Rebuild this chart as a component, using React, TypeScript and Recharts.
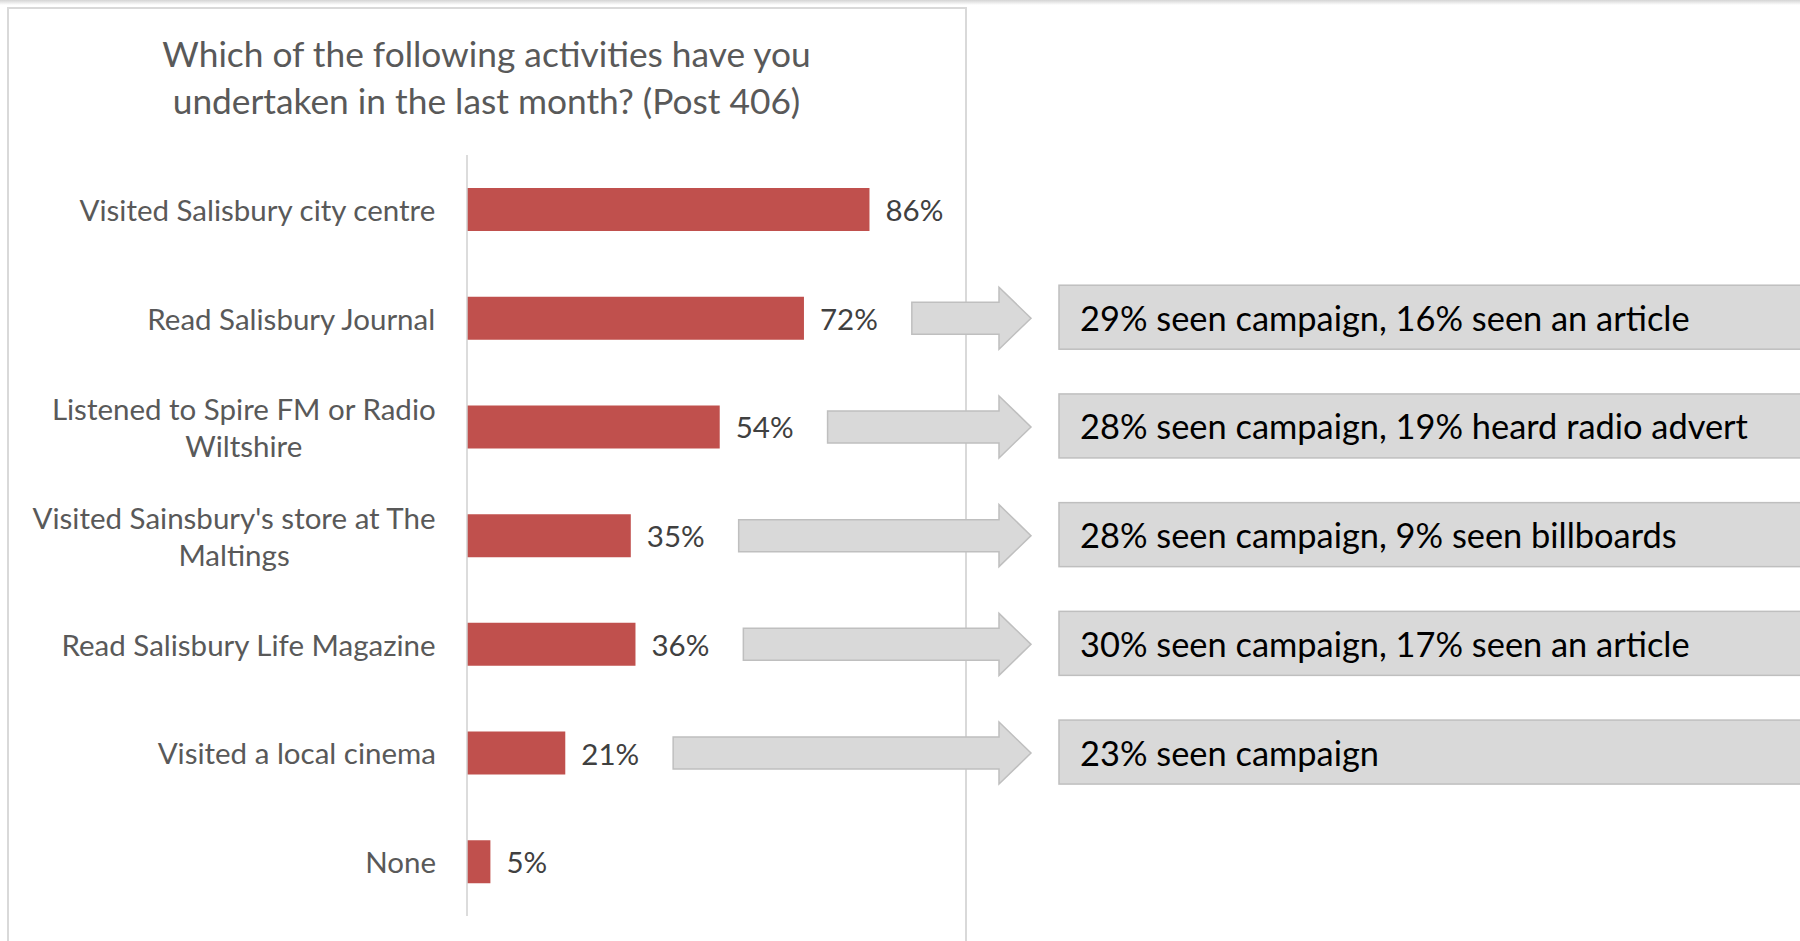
import React from 'react';
import { BarChart, Bar, XAxis, YAxis, LabelList } from 'recharts';

const CATEGORIES = [
  'Visited Salisbury city centre',
  'Read Salisbury Journal',
  'Listened to Spire FM or Radio Wiltshire',
  "Visited Sainsbury's store at The Maltings",
  'Read Salisbury Life Magazine',
  'Visited a local cinema',
  'None',
];
const VALUES = [86, 72, 54, 35, 36, 21, 5];
const CALLOUTS = [
  '',
  '29% seen campaign, 16% seen an article',
  '28% seen campaign, 19% heard radio advert',
  '28% seen campaign, 9% seen billboards',
  '30% seen campaign, 17% seen an article',
  '23% seen campaign',
  '',
];
const TITLE_LINES = ['Which of the following activities have you', 'undertaken in the last month? (Post 406)'];

const data = CATEGORIES.map((name, i) => ({ name, value: VALUES[i], callout: CALLOUTS[i] }));

const FONT = 'Lato, "Open Sans", sans-serif';
const LABEL_SIZE = 29.5;
const BOX_SIZE = 34.4;
const BAR_COLOR = '#c0504d';
const LABEL_RIGHT = 436;
const ARROW_TIP = 1031;
const BOX_LEFT = 1059;

let ctx: CanvasRenderingContext2D | null = null;
const measure = (text: string, size: number) => {
  if (!ctx) ctx = document.createElement('canvas').getContext('2d');
  if (!ctx) return text.length * size * 0.45;
  ctx.font = `${size}px Lato`;
  return ctx.measureText(text).width;
};

const wrap = (text: string, maxW: number) => {
  const words = text.split(' ');
  const lines: string[] = [];
  let cur = '';
  words.forEach((w) => {
    const next = cur ? cur + ' ' + w : w;
    if (cur && measure(next, LABEL_SIZE) > maxW) {
      lines.push(cur);
      cur = w;
    } else cur = next;
  });
  if (cur) lines.push(cur);
  return lines;
};

const CategoryTick = (props: any) => {
  const { y, payload } = props;
  const lines = wrap(payload.value, 425);
  const blockW = Math.max(...lines.map((l) => measure(l, LABEL_SIZE)));
  const cx = LABEL_RIGHT - blockW / 2;
  const lh = 37;
  const y0 = y - ((lines.length - 1) * lh) / 2;
  return (
    <g>
      {lines.map((l, i) => (
        <text key={i} x={cx} y={y0 + i * lh} textAnchor="middle" dominantBaseline="central"
          fill="#595959" fontSize={LABEL_SIZE} fontFamily={FONT}>
          {l}
        </text>
      ))}
    </g>
  );
};

const ValueLabel = (props: any) => {
  const { x, y, width, height, value, index } = props;
  const cy = y + height / 2;
  const lx = x + width + 16;
  const txt = `${value}%`;
  const callout = CALLOUTS[index];
  const start = lx + measure(txt, LABEL_SIZE) + 34;
  const shaft = 16;
  const head = 31;
  const headLen = 32;
  return (
    <g>
      <text x={lx} y={cy} dominantBaseline="central" fill="#404040" fontSize={LABEL_SIZE} fontFamily={FONT}>
        {txt}
      </text>
      {callout && (
        <g>
          <path
            d={`M${start},${cy - shaft} L${ARROW_TIP - headLen},${cy - shaft} L${ARROW_TIP - headLen},${cy - head} L${ARROW_TIP},${cy} L${ARROW_TIP - headLen},${cy + head} L${ARROW_TIP - headLen},${cy + shaft} L${start},${cy + shaft} Z`}
            fill="#d9d9d9" stroke="#bfbfbf" strokeWidth={1.5}
          />
          <rect x={BOX_LEFT} y={cy - 33} width={800} height={64} fill="#d9d9d9" stroke="#bfbfbf" strokeWidth={1.5} />
          <text x={BOX_LEFT + 21} y={cy - 1} dominantBaseline="central" fill="#000" fontSize={BOX_SIZE} fontFamily={FONT}>
            {callout}
          </text>
        </g>
      )}
    </g>
  );
};

export default function App() {
  return (
    <div style={{ position: 'absolute', left: 0, top: 0, width: 1800, height: 941, overflow: 'hidden', background: '#fff', fontFamily: FONT }}>
      <div style={{ position: 'absolute', left: 0, top: 0, width: 1800, height: 5, background: 'linear-gradient(#d4d4d4, #ffffff)' }} />
      <div style={{ position: 'absolute', left: 7, top: 7, width: 956, height: 1000, border: '2px solid #d9d9d9' }} />
      <div style={{ position: 'absolute', left: 8, top: 30, width: 957, textAlign: 'center', color: '#595959', fontSize: 35.3, lineHeight: '47px' }}>
        {TITLE_LINES.map((t) => (
          <div key={t}>{t}</div>
        ))}
      </div>
      <div style={{ position: 'absolute', left: 0, top: 0 }}>
        <BarChart width={1800} height={941} data={data} layout="vertical" margin={{ top: 155, right: 865, bottom: 25, left: 0 }}>
          <XAxis type="number" domain={[0, 100]} hide />
          <YAxis type="category" dataKey="name" width={467} axisLine={{ stroke: '#d0d0d0', strokeWidth: 1.5 }}
            tickLine={false} tick={<CategoryTick />} interval={0} />
          <Bar dataKey="value" fill={BAR_COLOR} barSize={43} isAnimationActive={false}>
            <LabelList dataKey="value" content={<ValueLabel />} />
          </Bar>
        </BarChart>
      </div>
    </div>
  );
}
